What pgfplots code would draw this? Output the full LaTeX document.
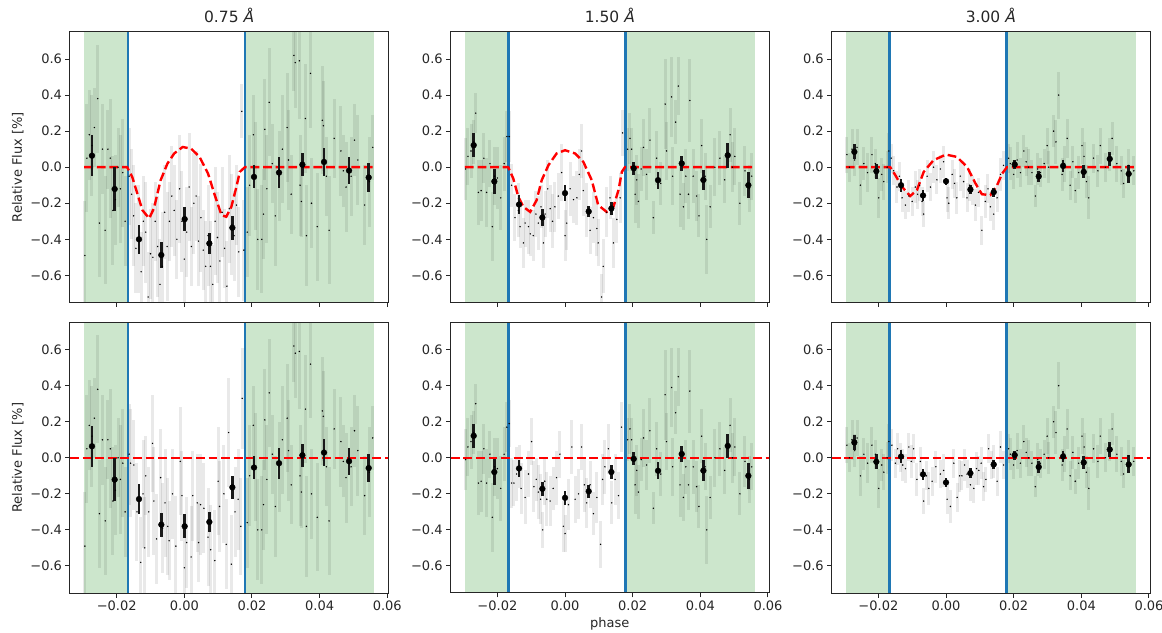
\documentclass[border=0pt]{standalone}
\usepackage{fontspec}
\setmainfont{DejaVu Sans}
\usepackage{pgfplots}
\usepackage{pgfplotstable}
\pgfplotsset{compat=1.18}

\definecolor{spangreen}{RGB}{204,230,204}
\definecolor{tabblue}{RGB}{31,119,180}

% ---------- 0.75 A ----------
\pgfplotstableread{
x y e
-0.0294 -0.49 0.30
-0.0288 0.05 0.30
-0.0281 0.18 0.25
-0.0273 0.12 0.28
-0.0266 0.22 0.22
-0.0256 0.38 0.30
-0.0251 -0.31 0.30
-0.0242 0.10 0.25
-0.0234 -0.35 0.30
-0.0226 0.10 0.22
-0.0219 0.05 0.33
-0.0211 -0.24 0.30
-0.0204 -0.18 0.25
-0.0196 0.00 0.22
-0.0189 -0.12 0.30
-0.0182 -0.03 0.30
-0.0175 -0.30 0.25
0.0186 -0.36 0.25
0.0193 -0.10 0.28
0.0204 0.18 0.22
0.0211 -0.05 0.30
0.0217 -0.40 0.28
0.0229 -0.40 0.30
0.0234 -0.26 0.25
0.0238 0.21 0.28
0.0244 -0.12 0.30
0.0251 0.36 0.30
0.0260 0.02 0.22
0.0269 -0.27 0.28
0.0280 -0.05 0.25
0.0290 0.10 0.30
0.0304 0.22 0.30
0.0308 0.04 0.28
0.0316 -0.15 0.22
0.0324 0.62 0.20
0.0328 0.58 0.25
0.0340 0.59 0.32
0.0342 -0.10 0.28
0.0346 -0.19 0.20
0.0358 0.27 0.30
0.0361 -0.38 0.28
0.0373 0.52 0.30
0.0376 -0.20 0.25
0.0393 -0.33 0.30
0.0408 0.26 0.30
0.0411 0.23 0.25
0.0420 -0.05 0.22
0.0428 -0.35 0.30
0.0443 0.16 0.22
0.0463 0.09 0.25
0.0470 -0.02 0.20
0.0478 -0.11 0.25
0.0493 -0.05 0.22
0.0503 0.15 0.20
0.0513 0.04 0.25
0.0533 -0.21 0.22
0.0547 -0.08 0.25
0.0557 0.11 0.18
}\grayAout

\pgfplotstableread{
x y e
-0.0163 -0.05 0.27
-0.0156 -0.15 0.25
-0.0150 -0.27 0.28
-0.0143 -0.45 0.25
-0.0136 -0.40 0.30
-0.0128 -0.58 0.22
-0.0121 -0.30 0.25
-0.0114 -0.36 0.28
-0.0107 -0.72 0.25
-0.0100 -0.48 0.25
-0.0093 -0.50 0.30
-0.0086 -0.30 0.22
-0.0079 -0.44 0.28
-0.0072 -0.65 0.25
-0.0065 -0.55 0.30
-0.0058 -0.25 0.26
-0.0051 -0.44 0.30
-0.0044 -0.30 0.22
-0.0037 -0.16 0.28
-0.0030 -0.24 0.25
-0.0022 -0.40 0.22
-0.0014 -0.12 0.30
-0.0007 -0.30 0.28
0.0000 -0.51 0.25
0.0007 -0.36 0.25
0.0014 -0.11 0.30
0.0021 -0.44 0.22
0.0028 -0.20 0.28
0.0035 -0.16 0.25
0.0042 -0.41 0.25
0.0049 -0.28 0.30
0.0056 -0.46 0.22
0.0063 -0.55 0.25
0.0070 -0.38 0.28
0.0077 -0.55 0.25
0.0084 -0.65 0.22
0.0091 -0.30 0.30
0.0098 -0.39 0.25
0.0105 -0.52 0.28
0.0112 -0.25 0.25
0.0119 -0.45 0.22
0.0126 -0.66 0.25
0.0133 -0.23 0.30
0.0140 -0.32 0.28
0.0147 -0.38 0.25
0.0154 -0.21 0.22
0.0161 -0.47 0.25
0.0170 0.31 0.15
0.0176 -0.46 0.28
}\grayAtop

\pgfplotstableread{
x y e
-0.0163 0.02 0.28
-0.0159 -0.03 0.30
-0.0149 -0.04 0.25
-0.0140 -0.30 0.27
-0.0129 -0.58 0.25
-0.0122 -0.20 0.30
-0.0117 -0.50 0.28
-0.0114 -0.10 0.22
-0.0105 -0.30 0.25
-0.0094 0.08 0.27
-0.0090 -0.24 0.30
-0.0082 -0.45 0.25
-0.0070 -0.11 0.27
-0.0064 -0.39 0.25
-0.0057 -0.25 0.30
-0.0049 -0.38 0.27
-0.0045 -0.46 0.22
-0.0035 -0.20 0.25
-0.0025 -0.49 0.28
-0.0012 -0.02 0.30
-0.0007 -0.21 0.25
0.0000 -0.61 0.27
0.0007 -0.47 0.25
0.0020 -0.55 0.28
0.0025 -0.21 0.25
0.0038 -0.25 0.27
0.0042 -0.47 0.22
0.0048 -0.26 0.28
0.0058 -0.28 0.25
0.0070 -0.44 0.27
0.0078 -0.51 0.25
0.0090 -0.57 0.28
0.0100 -0.13 0.30
0.0104 -0.27 0.25
0.0117 -0.20 0.27
0.0124 -0.48 0.25
0.0131 0.14 0.30
0.0139 -0.59 0.27
0.0150 -0.30 0.25
0.0159 -0.23 0.28
0.0167 -0.38 0.27
0.0171 0.33 0.28
}\grayAbot

\pgfplotstableread{
x y e
-0.0273 0.064 0.113
-0.0206 -0.121 0.120
-0.0134 -0.400 0.080
-0.0068 -0.487 0.070
0.0001 -0.288 0.067
0.0074 -0.423 0.058
0.0142 -0.336 0.066
0.0206 -0.054 0.064
0.0280 -0.030 0.086
0.0349 0.014 0.063
0.0413 0.029 0.077
0.0487 -0.019 0.076
0.0545 -0.057 0.078
}\binAtop

\pgfplotstableread{
x y e
-0.0273 0.064 0.113
-0.0206 -0.121 0.120
-0.0134 -0.229 0.081
-0.0068 -0.371 0.066
0.0001 -0.380 0.066
0.0074 -0.356 0.055
0.0142 -0.164 0.062
0.0206 -0.054 0.064
0.0280 -0.030 0.086
0.0349 0.014 0.063
0.0413 0.029 0.077
0.0487 -0.019 0.076
0.0545 -0.057 0.078
}\binAbot

\pgfplotstableread{
x y
-0.0296 0
-0.0169 0
-0.0154 -0.054
-0.0139 -0.146
-0.0124 -0.238
-0.0104 -0.284
-0.0090 -0.229
-0.0070 -0.072
-0.0050 0.020
-0.0030 0.076
-0.0005 0.112
0.0020 0.103
0.0045 0.057
0.0070 -0.035
0.0090 -0.155
0.0110 -0.266
0.0124 -0.275
0.0139 -0.220
0.0154 -0.109
0.0164 -0.026
0.0179 0
0.0562 0
}\modelA

% ---------- 1.50 A ----------
\pgfplotstableread{
x y e
-0.0294 -0.01 0.17
-0.0287 0.06 0.16
-0.0278 0.09 0.15
-0.0270 0.14 0.12
-0.0264 0.30 0.11
-0.0256 -0.14 0.18
-0.0248 -0.13 0.17
-0.0240 0.05 0.14
-0.0232 -0.14 0.19
-0.0222 0.02 0.13
-0.0215 -0.33 0.19
-0.0208 -0.05 0.16
-0.0200 -0.06 0.17
-0.0190 -0.17 0.18
-0.0180 0.02 0.15
-0.0172 0.17 0.14
0.0185 0.10 0.12
0.0192 0.16 0.14
0.0197 0.10 0.12
0.0207 -0.15 0.16
0.0212 -0.07 0.14
0.0217 -0.19 0.15
0.0225 -0.01 0.12
0.0232 0.11 0.16
0.0241 -0.04 0.14
0.0251 0.15 0.18
0.0261 -0.28 0.09
0.0271 0.05 0.15
0.0283 -0.09 0.12
0.0296 0.35 0.25
0.0300 0.09 0.16
0.0315 0.39 0.22
0.0318 -0.05 0.16
0.0327 0.25 0.12
0.0335 0.45 0.16
0.0340 -0.15 0.18
0.0350 -0.22 0.13
0.0357 -0.05 0.15
0.0365 -0.15 0.14
0.0369 0.37 0.23
0.0379 -0.05 0.15
0.0389 -0.16 0.14
0.0396 -0.27 0.12
0.0404 0.12 0.15
0.0414 -0.05 0.13
0.0419 -0.40 0.19
0.0429 -0.22 0.12
0.0443 0.00 0.16
0.0458 0.05 0.15
0.0472 -0.07 0.13
0.0488 0.18 0.15
0.0495 0.00 0.14
0.0502 0.06 0.16
0.0517 -0.20 0.12
0.0532 -0.02 0.14
0.0545 -0.12 0.13
0.0552 -0.05 0.13
}\grayBout

\pgfplotstableread{
x y e
-0.0165 0.17 0.14
-0.0158 -0.10 0.12
-0.0148 -0.28 0.13
-0.0138 -0.24 0.15
-0.0133 -0.33 0.12
-0.0123 -0.42 0.14
-0.0118 -0.31 0.13
-0.0108 -0.33 0.15
-0.0103 -0.37 0.12
-0.0094 -0.38 0.14
-0.0086 -0.26 0.13
-0.0079 -0.31 0.15
-0.0071 -0.22 0.12
-0.0064 -0.42 0.14
-0.0059 -0.26 0.13
-0.0051 -0.12 0.16
-0.0044 -0.23 0.13
-0.0037 -0.30 0.15
-0.0030 -0.22 0.14
-0.0020 -0.16 0.13
-0.0010 -0.03 0.16
0.0000 -0.38 0.14
0.0005 -0.31 0.15
0.0015 -0.12 0.15
0.0025 -0.18 0.13
0.0035 -0.17 0.15
0.0042 -0.04 0.14
0.0049 0.09 0.15
0.0054 -0.13 0.14
0.0064 -0.24 0.15
0.0074 -0.35 0.13
0.0084 -0.28 0.14
0.0094 -0.34 0.15
0.0098 -0.42 0.13
0.0108 -0.72 0.13
0.0113 -0.55 0.15
0.0123 -0.25 0.14
0.0133 -0.17 0.12
0.0143 -0.42 0.14
0.0153 -0.29 0.13
0.0163 -0.17 0.14
0.0170 0.19 0.13
}\grayBtop

\pgfplotstableread{
x y e
-0.0165 0.19 0.13
-0.0158 -0.14 0.14
-0.0151 -0.14 0.13
-0.0143 -0.09 0.15
-0.0136 -0.05 0.12
-0.0130 -0.17 0.14
-0.0118 -0.22 0.15
-0.0108 -0.09 0.13
-0.0099 0.09 0.13
-0.0092 -0.16 0.14
-0.0085 -0.12 0.12
-0.0079 -0.19 0.15
-0.0072 -0.23 0.14
-0.0066 -0.40 0.10
-0.0060 -0.13 0.13
-0.0054 -0.23 0.15
-0.0044 -0.24 0.14
-0.0035 -0.17 0.12
-0.0025 -0.11 0.15
-0.0015 0.02 0.13
-0.0005 -0.38 0.14
0.0000 -0.42 0.10
0.0010 -0.26 0.14
0.0020 0.06 0.15
0.0030 -0.23 0.13
0.0040 -0.20 0.14
0.0049 0.06 0.13
0.0057 -0.15 0.15
0.0064 -0.25 0.14
0.0074 -0.15 0.13
0.0084 -0.31 0.12
0.0094 -0.22 0.14
0.0105 -0.48 0.13
0.0111 -0.12 0.14
0.0118 -0.05 0.15
0.0128 0.05 0.14
0.0138 -0.25 0.12
0.0148 -0.12 0.14
0.0158 -0.21 0.13
0.0167 0.17 0.14
}\grayBbot

\pgfplotstableread{
x y e
-0.0270 0.122 0.068
-0.0209 -0.079 0.070
-0.0136 -0.207 0.055
-0.0067 -0.279 0.045
0.0000 -0.144 0.046
0.0070 -0.246 0.032
0.0137 -0.229 0.037
0.0203 -0.006 0.036
0.0275 -0.072 0.047
0.0345 0.021 0.043
0.0409 -0.071 0.057
0.0481 0.066 0.068
0.0542 -0.100 0.073
}\binBtop

\pgfplotstableread{
x y e
-0.0270 0.122 0.068
-0.0209 -0.079 0.070
-0.0136 -0.059 0.047
-0.0067 -0.172 0.040
0.0000 -0.222 0.039
0.0070 -0.186 0.037
0.0137 -0.079 0.038
0.0203 -0.006 0.036
0.0275 -0.072 0.047
0.0345 0.021 0.043
0.0409 -0.071 0.057
0.0481 0.066 0.068
0.0542 -0.100 0.073
}\binBbot

\pgfplotstableread{
x y
-0.0296 0
-0.0168 0
-0.0153 -0.063
-0.0138 -0.165
-0.0123 -0.220
-0.0103 -0.248
-0.0084 -0.183
-0.0069 -0.072
-0.0049 0.011
-0.0025 0.076
0.0000 0.094
0.0030 0.076
0.0054 0.030
0.0079 -0.072
0.0098 -0.210
0.0123 -0.248
0.0143 -0.220
0.0158 -0.127
0.0168 -0.026
0.0177 0
0.0562 0
}\modelB

% ---------- 3.00 A ----------
\pgfplotstableread{
x y e
-0.0293 0.07 0.10
-0.0286 0.00 0.08
-0.0278 0.10 0.11
-0.0270 0.04 0.09
-0.0263 0.11 0.10
-0.0253 -0.10 0.11
-0.0243 0.02 0.09
-0.0232 -0.03 0.11
-0.0219 0.07 0.10
-0.0209 0.02 0.08
-0.0199 -0.17 0.11
-0.0190 -0.04 0.09
-0.0184 -0.08 0.10
-0.0174 0.00 0.09
-0.0169 0.09 0.10
0.0185 0.05 0.08
0.0190 0.02 0.09
0.0200 -0.04 0.08
0.0210 0.04 0.10
0.0220 -0.03 0.08
0.0230 0.09 0.09
0.0237 0.03 0.08
0.0244 0.00 0.10
0.0254 -0.03 0.07
0.0264 -0.16 0.06
0.0271 -0.01 0.09
0.0279 -0.03 0.08
0.0290 0.02 0.08
0.0299 0.12 0.10
0.0303 0.00 0.09
0.0318 0.20 0.09
0.0325 0.14 0.12
0.0333 0.40 0.13
0.0343 -0.04 0.09
0.0350 0.02 0.10
0.0358 0.16 0.11
0.0367 -0.10 0.08
0.0375 0.03 0.09
0.0382 -0.13 0.07
0.0392 -0.03 0.09
0.0402 0.12 0.10
0.0408 0.06 0.08
0.0415 -0.08 0.09
0.0422 -0.17 0.12
0.0436 0.05 0.08
0.0449 -0.02 0.09
0.0456 0.12 0.10
0.0471 0.00 0.08
0.0484 0.07 0.09
0.0491 0.16 0.09
0.0505 0.02 0.10
0.0518 -0.02 0.08
0.0525 -0.09 0.08
0.0540 0.01 0.09
0.0555 -0.02 0.08
}\grayCout

\pgfplotstableread{
x y e
-0.0162 0.05 0.08
-0.0155 -0.02 0.08
-0.0145 -0.11 0.09
-0.0138 -0.05 0.08
-0.0130 -0.17 0.08
-0.0120 -0.21 0.08
-0.0110 -0.16 0.09
-0.0100 -0.19 0.08
-0.0091 -0.11 0.09
-0.0084 -0.15 0.08
-0.0078 -0.10 0.09
-0.0071 -0.19 0.08
-0.0066 -0.26 0.07
-0.0056 -0.05 0.09
-0.0046 -0.11 0.08
-0.0037 0.00 0.09
-0.0027 -0.07 0.08
-0.0017 -0.01 0.08
-0.0007 0.03 0.09
0.0003 -0.17 0.08
0.0008 -0.20 0.09
0.0018 -0.04 0.08
0.0025 -0.09 0.08
0.0032 -0.17 0.09
0.0042 -0.05 0.08
0.0052 -0.08 0.09
0.0062 -0.17 0.08
0.0070 -0.10 0.09
0.0077 -0.13 0.08
0.0087 -0.21 0.09
0.0096 -0.14 0.08
0.0106 -0.35 0.08
0.0116 -0.19 0.09
0.0124 -0.12 0.08
0.0131 -0.22 0.08
0.0141 -0.26 0.09
0.0151 -0.17 0.08
0.0161 -0.04 0.09
0.0170 0.01 0.08
}\grayCtop

\pgfplotstableread{
x y e
-0.0160 0.07 0.09
-0.0150 -0.03 0.08
-0.0143 0.05 0.09
-0.0135 0.00 0.08
-0.0128 -0.04 0.09
-0.0120 -0.06 0.08
-0.0110 0.06 0.08
-0.0103 -0.02 0.09
-0.0096 0.05 0.08
-0.0086 -0.12 0.09
-0.0076 -0.02 0.08
-0.0066 -0.24 0.07
-0.0058 -0.10 0.08
-0.0051 -0.17 0.09
-0.0041 -0.13 0.08
-0.0030 -0.05 0.09
-0.0017 -0.09 0.08
-0.0007 -0.07 0.09
0.0003 -0.23 0.08
0.0013 -0.27 0.09
0.0023 -0.03 0.08
0.0033 -0.22 0.08
0.0040 -0.10 0.09
0.0047 -0.10 0.08
0.0055 -0.04 0.09
0.0062 -0.09 0.08
0.0072 -0.15 0.09
0.0082 -0.17 0.08
0.0090 -0.06 0.09
0.0097 -0.07 0.08
0.0104 -0.03 0.09
0.0111 -0.16 0.08
0.0118 -0.12 0.07
0.0126 0.05 0.08
0.0134 -0.04 0.08
0.0141 -0.02 0.09
0.0151 -0.13 0.08
0.0161 0.06 0.09
0.0170 -0.04 0.08
}\grayCbot

\pgfplotstableread{
x y e
-0.0271 0.085 0.041
-0.0206 -0.022 0.042
-0.0133 -0.100 0.035
-0.0068 -0.157 0.028
0.0000 -0.078 0.020
0.0072 -0.124 0.023
0.0141 -0.138 0.025
0.0203 0.015 0.025
0.0274 -0.051 0.031
0.0346 0.007 0.033
0.0407 -0.026 0.036
0.0484 0.046 0.040
0.0540 -0.037 0.050
}\binCtop

\pgfplotstableread{
x y e
-0.0271 0.085 0.041
-0.0206 -0.022 0.042
-0.0133 0.007 0.034
-0.0068 -0.092 0.030
0.0000 -0.137 0.025
0.0072 -0.085 0.026
0.0141 -0.037 0.023
0.0203 0.015 0.025
0.0274 -0.051 0.031
0.0346 0.007 0.033
0.0407 -0.026 0.036
0.0484 0.046 0.040
0.0540 -0.037 0.050
}\binCbot

\pgfplotstableread{
x y
-0.0296 0
-0.0165 0
-0.0150 -0.044
-0.0130 -0.109
-0.0106 -0.160
-0.0086 -0.127
-0.0066 -0.026
-0.0037 0.039
0.0000 0.070
0.0032 0.057
0.0062 0.002
0.0087 -0.090
0.0106 -0.150
0.0131 -0.155
0.0151 -0.100
0.0166 -0.035
0.0180 0
0.0562 0
}\modelC

\pgfplotsset{
  panel/.style={
    scale only axis, width=318.3pt, height=270.4pt,
    anchor=south west,
    xmin=-0.0338, xmax=0.0603, ymin=-0.75, ymax=0.75,
    xtick={-0.02,0,0.02,0.04,0.06},
    ytick={-0.6,-0.4,-0.2,0,0.2,0.4,0.6},
    yticklabels={−0.6,−0.4,−0.2,0.0,0.2,0.4,0.6},
    scaled ticks=false,
    tick align=outside, tick pos=left,
    major tick length=4.5pt,
    tick style={black!85, line width=1pt},
    axis line style={line width=1pt, black!85},
    tick label style={font=\fontsize{13}{15}\selectfont, text=black!85},
    label style={font=\fontsize{13}{15}\selectfont, text=black!85},
    title style={font=\fontsize{15.5}{18}\selectfont, text=black!85},
    axis on top,
  },
  toprow/.style={xticklabels={}},
  botrow/.style={xticklabels={−0.02,0.00,0.02,0.04,0.06}},
  grayerr/.style={only marks, mark=*, mark size=0.5pt,
    mark options={draw=none, fill=black, fill opacity=0.18},
    error bars/.cd, y dir=both, y explicit, error mark=none,
    error bar style={line width=3pt, draw=black, draw opacity=0.085}},
  binned/.style={only marks, mark=*, mark size=2.9pt,
    mark options={draw=black, fill=black},
    error bars/.cd, y dir=both, y explicit, error mark=none,
    error bar style={line width=2.8pt, draw=black!90}},
  model/.style={red, line width=2.4pt, dash pattern=on 8.8pt off 3.8pt},
  vline/.style={tabblue, line width=2.3pt},
}

\newcommand{\spans}{%
  \addplot[draw=none, fill=spangreen] coordinates {(-0.0296,-0.75) (-0.0167,-0.75) (-0.0167,0.75) (-0.0296,0.75)} -- cycle;
  \addplot[draw=none, fill=spangreen] coordinates {(0.0179,-0.75) (0.0562,-0.75) (0.0562,0.75) (0.0179,0.75)} -- cycle;
}
\newcommand{\vlines}{%
  \addplot[vline] coordinates {(-0.0167,-0.75) (-0.0167,0.75)};
  \addplot[vline] coordinates {(0.0179,-0.75) (0.0179,0.75)};
}

\begin{document}
\begin{tikzpicture}
\useasboundingbox (0,0) rectangle (1162pt,632pt);

% ---- top row ----
\begin{axis}[panel, toprow, at={(70pt,329.6pt)}, title={0.75 \textit{Å}}, ylabel={Relative Flux [\%]}]
\spans
\addplot[grayerr] table[x=x,y=y,y error=e] {\grayAout};
\addplot[grayerr] table[x=x,y=y,y error=e] {\grayAtop};
\vlines
\addplot[model] table[x=x,y=y] {\modelA};
\addplot[binned] table[x=x,y=y,y error=e] {\binAtop};
\end{axis}

\begin{axis}[panel, toprow, at={(450.7pt,329.6pt)}, title={1.50 \textit{Å}}]
\spans
\addplot[grayerr] table[x=x,y=y,y error=e] {\grayBout};
\addplot[grayerr] table[x=x,y=y,y error=e] {\grayBtop};
\vlines
\addplot[model] table[x=x,y=y] {\modelB};
\addplot[binned] table[x=x,y=y,y error=e] {\binBtop};
\end{axis}

\begin{axis}[panel, toprow, at={(831.7pt,329.6pt)}, title={3.00 \textit{Å}}]
\spans
\addplot[grayerr] table[x=x,y=y,y error=e] {\grayCout};
\addplot[grayerr] table[x=x,y=y,y error=e] {\grayCtop};
\vlines
\addplot[model] table[x=x,y=y] {\modelC};
\addplot[binned] table[x=x,y=y,y error=e] {\binCtop};
\end{axis}

% ---- bottom row ----
\begin{axis}[panel, botrow, at={(70pt,39pt)}, ylabel={Relative Flux [\%]}]
\spans
\addplot[grayerr] table[x=x,y=y,y error=e] {\grayAout};
\addplot[grayerr] table[x=x,y=y,y error=e] {\grayAbot};
\vlines
\addplot[model] coordinates {(-0.0338,0) (0.0603,0)};
\addplot[binned] table[x=x,y=y,y error=e] {\binAbot};
\end{axis}

\begin{axis}[panel, botrow, at={(450.7pt,39pt)}, xlabel={phase}]
\spans
\addplot[grayerr] table[x=x,y=y,y error=e] {\grayBout};
\addplot[grayerr] table[x=x,y=y,y error=e] {\grayBbot};
\vlines
\addplot[model] coordinates {(-0.0338,0) (0.0603,0)};
\addplot[binned] table[x=x,y=y,y error=e] {\binBbot};
\end{axis}

\begin{axis}[panel, botrow, at={(831.7pt,39pt)}]
\spans
\addplot[grayerr] table[x=x,y=y,y error=e] {\grayCout};
\addplot[grayerr] table[x=x,y=y,y error=e] {\grayCbot};
\vlines
\addplot[model] coordinates {(-0.0338,0) (0.0603,0)};
\addplot[binned] table[x=x,y=y,y error=e] {\binCbot};
\end{axis}
\end{tikzpicture}
\end{document}
